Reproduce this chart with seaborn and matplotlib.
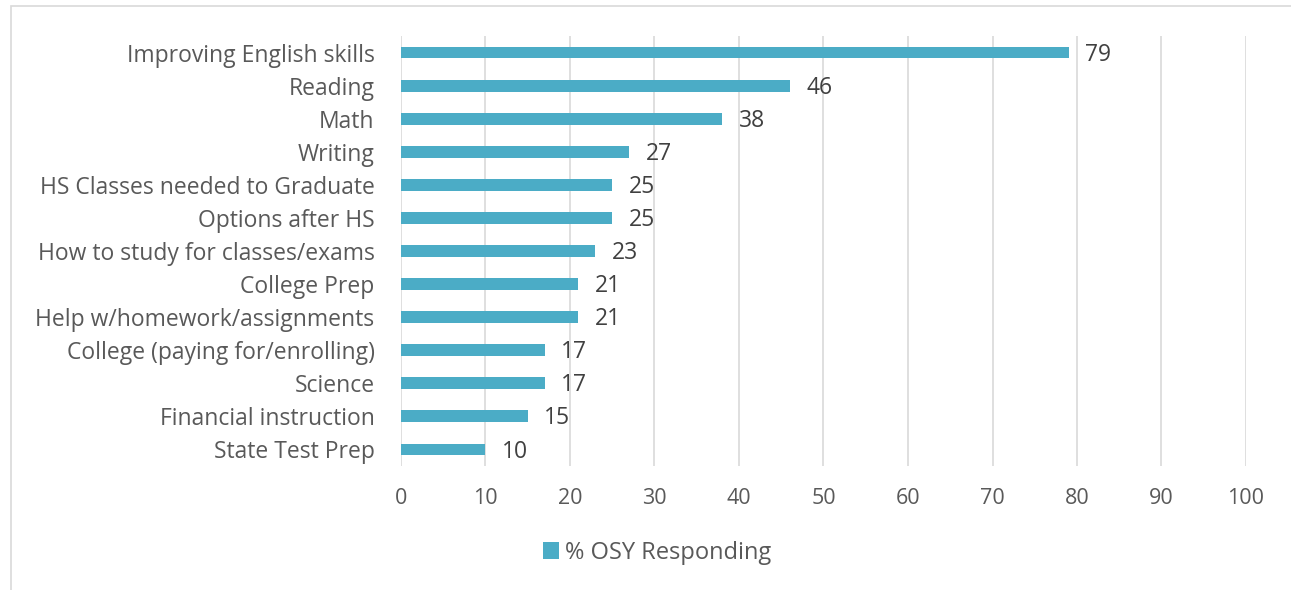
import matplotlib.pyplot as plt
from matplotlib.patches import Rectangle
import seaborn as sns
import pandas as pd

# Data
topics = ['Improving English skills', 'Reading', 'Math', 'Writing',
          'HS Classes needed to Graduate', 'Options after HS',
          'How to study for classes/exams', 'College Prep',
          'Help w/homework/assignments', 'College (paying for/enrolling)',
          'Science', 'Financial instruction', 'State Test Prep']
pct_responding = [79, 46, 38, 27, 25, 25, 23, 21, 21, 17, 17, 15, 10]
x_ticks = [0, 10, 20, 30, 40, 50, 60, 70, 80, 90, 100]
series_name = '% OSY Responding'

df = pd.DataFrame({'topic': topics, 'pct': pct_responding})

sns.set_style('white')
plt.rcParams['font.family'] = ['Open Sans', 'DejaVu Sans']

bar_color = '#4BACC6'
text_color = '#595959'

fig = plt.figure(figsize=(12.91, 5.90), dpi=100)
ax = fig.add_axes([401 / 1291, 1 - 466 / 590, 845 / 1291, 430 / 590])

sns.barplot(data=df, x='pct', y='topic', orient='h', color=bar_color,
            width=0.36, saturation=1, linewidth=0, ax=ax, label=series_name)

labels_txt = ax.bar_label(ax.containers[0], fmt='%d', padding=12, fontsize=16.5,
                          color='#404040')
for t in labels_txt:
    t.xyann = (12, -1.5)

ax.set_xlim(0, 100)
ax.set_xticks(x_ticks)
ax.set_xlabel('')
ax.set_ylabel('')
ax.grid(axis='x', color='#D9D9D9', linewidth=1.2)
ax.set_axisbelow(True)
for s in ax.spines.values():
    s.set_visible(False)
ax.tick_params(axis='x', length=0, pad=16, labelsize=15.5, labelcolor=text_color)
ax.tick_params(axis='y', length=0, pad=19, labelsize=16.5, labelcolor=text_color)

# legend below the plot
if ax.get_legend() is not None:
    ax.get_legend().remove()
handles, labels = ax.get_legend_handles_labels()
fig.legend(handles[:1], labels[:1], loc='center', bbox_to_anchor=(657 / 1291, 1 - 553 / 590),
           frameon=False, fontsize=17, labelcolor=text_color, handlelength=0.7,
           handleheight=0.7, handletextpad=0.25)

# chart area border
fig.patches.append(Rectangle((11 / 1291, -0.1), 1.1, 1.1 - 6 / 590, fill=False,
                             edgecolor='#D9D9D9', linewidth=1.2, transform=fig.transFigure))

plt.savefig('out.png', dpi=100)
